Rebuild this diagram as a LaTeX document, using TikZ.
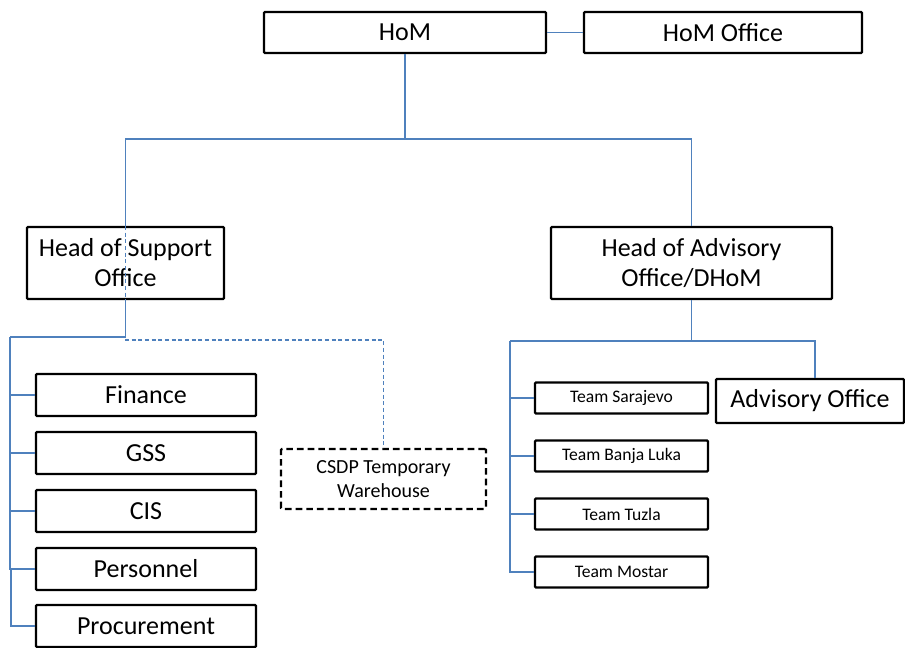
\documentclass[tikz,border=0pt]{standalone}
\usepackage{fontspec}
\setmainfont{Carlito}
\usepackage{xcolor}
\usepackage{tikz}
\usetikzlibrary{positioning,calc}

\definecolor{linkblue}{HTML}{4F81BD}

\begin{document}
\begin{tikzpicture}[
    x=0.75pt, y=-0.75pt,
    box/.style={rectangle, draw, line width=1.7pt, rounded corners=0.8pt, inner sep=0pt, align=center, font=\fontsize{19.5}{22.5}\selectfont},
    team/.style={box, minimum width=173*0.75pt, minimum height=31*0.75pt, font=\fontsize{13.2}{15}\selectfont},
    unit/.style={box, minimum width=220*0.75pt, minimum height=42*0.75pt},
    link/.style={draw=linkblue, line width=1pt},
    dashlink/.style={link, dashed, dash pattern=on 3pt off 2pt}
]
\useasboundingbox (0,0) rectangle (905,648);

% Top level
\node[box, minimum width=282*0.75pt, minimum height=41*0.75pt] (hom) at (405,32.5) {HoM};
\node[box, minimum width=278*0.75pt, minimum height=41*0.75pt] (homoff) at (723,32.5) {HoM Office};
\node[box, minimum width=197*0.75pt, minimum height=72*0.75pt] (hos) at (125.5,263) {Head of Support\\Office};
\node[box, minimum width=281*0.75pt, minimum height=72*0.75pt] (hoa) at (691.5,263) {Head of Advisory\\Office/DHoM};

% Support units
\node[unit] (fin) at (146,395) {Finance};
\node[unit] (gss) at (146,453) {GSS};
\node[unit] (cis) at (146,511) {CIS};
\node[unit] (pers) at (146,569) {Personnel};
\node[unit] (proc) at (146,626) {Procurement};
\node[box, dashed, dash pattern=on 5pt off 3pt, minimum width=205*0.75pt, minimum height=60*0.75pt, font=\fontsize{15}{18}\selectfont] (csdp) at (383.5,479) {CSDP Temporary\\Warehouse};

% Advisory teams
\node[team] (sar) at (621.5,398) {Team Sarajevo};
\node[team] (banja) at (621.5,456) {Team Banja Luka};
\node[team] (tuzla) at (621.5,514) {Team Tuzla};
\node[team] (mostar) at (621.5,572) {Team Mostar};
\node[box, minimum width=188*0.75pt, minimum height=44*0.75pt] (adv) at (810,401) {Advisory Office};

% Connectors
\draw[link] (hom) -- (homoff);
\draw[link] (hom.south) -- ++(0,85) -| (hos.north);
\draw[link] (hom.south) -- ++(0,85) -| (hoa.north);

% Support tree
\coordinate (lspine) at (10,337);
\draw[link] (hos.south) |- (lspine);
\foreach \u in {fin,gss,cis,pers}
    \draw[link] (lspine) |- (\u.west);
\draw[link] (pers.west) -- ++(-24,0) |- (proc.west);
\draw[dashlink] (hos.north) -- ++(0,114) -| (csdp.north);

% Advisory tree
\coordinate (rsplit) at (691.5,341);
\coordinate (rspine) at (510,341);
\draw[link] (hoa.south) -- (rsplit) -| ([xshift=3.75pt]adv.north);
\draw[link] (rsplit) -- (rspine);
\foreach \t in {sar,banja,tuzla,mostar}
    \draw[link] (rspine) |- (\t.west);

\end{tikzpicture}
\end{document}
